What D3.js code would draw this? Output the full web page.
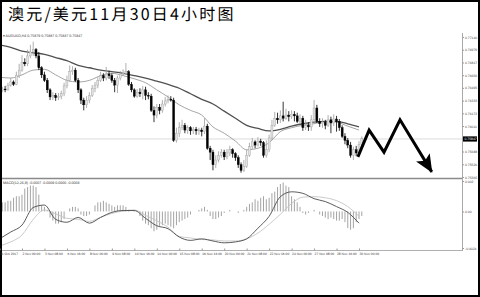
<!DOCTYPE html>
<html>
<head>
<meta charset="utf-8">
<script src="https://cdn.jsdelivr.net/npm/d3@7/dist/d3.min.js"></script>
<style>
body { margin: 0; background: #fff; }
svg { display: block; }
text { text-rendering: geometricPrecision; }
</style>
</head>
<body>
<script>
// ---- data ----
var title = "澳元/美元11月30日4小时图";
var header = "AUDUSD,H4  0.75879 0.75887 0.75837 0.75847";
var macdHeader = "MACD(12,26,9) -0.0007 -0.0009 0.0000 -0.0003";

// H4 bars: [open, high, low, close]
var bars = [
  [0.7649,0.7651,0.7643,0.7646],[0.7646,0.7651,0.7644,0.7648],[0.7648,0.7652,0.7644,0.7647],[0.7647,0.7656,0.7646,0.7653],
  [0.7653,0.7662,0.7651,0.7657],[0.7657,0.7659,0.7652,0.7654],[0.7654,0.7670,0.7653,0.7665],[0.7665,0.7680,0.7662,0.7672],
  [0.7672,0.7691,0.7670,0.7682],[0.7682,0.7687,0.7677,0.7680],[0.7680,0.7698,0.7677,0.7690],[0.7690,0.7704,0.7687,0.7695],
  [0.7695,0.7708,0.7690,0.7698],[0.7698,0.7700,0.7687,0.7690],[0.7690,0.7695,0.7672,0.7675],[0.7675,0.7677,0.7662,0.7666],
  [0.7666,0.7670,0.7657,0.7659],[0.7659,0.7662,0.7643,0.7647],[0.7647,0.7649,0.7634,0.7638],[0.7638,0.7644,0.7634,0.7640],
  [0.7640,0.7643,0.7633,0.7637],[0.7637,0.7643,0.7634,0.7639],[0.7639,0.7646,0.7635,0.7642],[0.7642,0.7656,0.7639,0.7652],
  [0.7652,0.7665,0.7649,0.7659],[0.7659,0.7678,0.7657,0.7670],[0.7670,0.7677,0.7666,0.7672],[0.7672,0.7675,0.7657,0.7659],
  [0.7659,0.7662,0.7643,0.7647],[0.7647,0.7649,0.7629,0.7634],[0.7634,0.7637,0.7621,0.7628],[0.7628,0.7639,0.7624,0.7634],
  [0.7634,0.7644,0.7630,0.7640],[0.7640,0.7653,0.7638,0.7649],[0.7649,0.7657,0.7644,0.7653],[0.7653,0.7663,0.7649,0.7659],
  [0.7659,0.7670,0.7657,0.7665],[0.7665,0.7668,0.7658,0.7662],[0.7662,0.7676,0.7659,0.7667],[0.7667,0.7671,0.7661,0.7665],
  [0.7665,0.7668,0.7656,0.7659],[0.7659,0.7662,0.7644,0.7653],[0.7653,0.7665,0.7643,0.7662],[0.7662,0.7671,0.7659,0.7667],
  [0.7667,0.7673,0.7665,0.7668],[0.7668,0.7681,0.7666,0.7670],[0.7670,0.7672,0.7652,0.7654],[0.7654,0.7657,0.7644,0.7647],
  [0.7647,0.7649,0.7637,0.7639],[0.7639,0.7648,0.7637,0.7644],[0.7644,0.7649,0.7638,0.7642],[0.7642,0.7652,0.7635,0.7647],
  [0.7647,0.7651,0.7634,0.7640],[0.7640,0.7644,0.7635,0.7639],[0.7639,0.7642,0.7619,0.7621],[0.7621,0.7626,0.7606,0.7615],
  [0.7615,0.7629,0.7611,0.7625],[0.7625,0.7629,0.7616,0.7621],[0.7621,0.7634,0.7618,0.7629],[0.7629,0.7638,0.7626,0.7633],
  [0.7633,0.7640,0.7630,0.7635],[0.7635,0.7639,0.7632,0.7634],[0.7634,0.7637,0.7581,0.7583],[0.7583,0.7599,0.7580,0.7592],
  [0.7592,0.7606,0.7587,0.7599],[0.7599,0.7609,0.7596,0.7602],[0.7602,0.7605,0.7592,0.7596],[0.7596,0.7602,0.7591,0.7599],
  [0.7599,0.7601,0.7590,0.7595],[0.7595,0.7600,0.7591,0.7597],[0.7597,0.7600,0.7590,0.7595],[0.7595,0.7599,0.7590,0.7596],
  [0.7596,0.7599,0.7588,0.7594],[0.7594,0.7611,0.7591,0.7601],[0.7601,0.7604,0.7571,0.7573],[0.7573,0.7576,0.7558,0.7568],
  [0.7568,0.7571,0.7545,0.7552],[0.7552,0.7564,0.7548,0.7558],[0.7558,0.7569,0.7555,0.7564],[0.7564,0.7572,0.7561,0.7568],
  [0.7568,0.7571,0.7558,0.7562],[0.7562,0.7572,0.7559,0.7567],[0.7567,0.7576,0.7563,0.7571],[0.7571,0.7573,0.7561,0.7566],
  [0.7566,0.7568,0.7557,0.7561],[0.7561,0.7564,0.7548,0.7552],[0.7552,0.7555,0.7542,0.7545],[0.7545,0.7558,0.7543,0.7550],
  [0.7550,0.7571,0.7548,0.7564],[0.7564,0.7580,0.7562,0.7575],[0.7575,0.7586,0.7572,0.7581],[0.7581,0.7583,0.7573,0.7577],
  [0.7577,0.7587,0.7575,0.7582],[0.7582,0.7585,0.7576,0.7580],[0.7580,0.7582,0.7561,0.7564],[0.7564,0.7583,0.7561,0.7571],
  [0.7571,0.7590,0.7568,0.7586],[0.7586,0.7609,0.7583,0.7602],[0.7602,0.7619,0.7600,0.7611],[0.7611,0.7618,0.7604,0.7609],
  [0.7609,0.7621,0.7605,0.7614],[0.7614,0.7632,0.7607,0.7611],[0.7611,0.7623,0.7609,0.7615],[0.7615,0.7620,0.7607,0.7613],
  [0.7613,0.7621,0.7610,0.7616],[0.7616,0.7620,0.7607,0.7614],[0.7614,0.7618,0.7605,0.7607],[0.7607,0.7616,0.7604,0.7611],
  [0.7611,0.7614,0.7595,0.7599],[0.7599,0.7609,0.7596,0.7602],[0.7602,0.7606,0.7595,0.7600],[0.7600,0.7615,0.7595,0.7609],
  [0.7609,0.7634,0.7604,0.7624],[0.7624,0.7628,0.7605,0.7607],[0.7607,0.7611,0.7600,0.7604],[0.7604,0.7611,0.7599,0.7606],
  [0.7606,0.7609,0.7597,0.7602],[0.7602,0.7615,0.7600,0.7609],[0.7609,0.7613,0.7592,0.7605],[0.7605,0.7616,0.7601,0.7610],
  [0.7610,0.7614,0.7594,0.7607],[0.7607,0.7610,0.7595,0.7599],[0.7599,0.7602,0.7586,0.7588],[0.7588,0.7592,0.7578,0.7583],
  [0.7583,0.7586,0.7573,0.7577],[0.7577,0.7581,0.7561,0.7564],[0.7564,0.7575,0.7558,0.7571],[0.7571,0.7576,0.7563,0.7567],
  [0.7567,0.7582,0.7564,0.7578],[0.7578,0.7588,0.7576,0.7585]
];

// moving averages, read every 4th bar
var maStep = 4;
var maSlow = [0.7704,0.7701,0.7696,0.7694,0.7692,0.7688,0.7684,0.7678,0.7675,0.7672,0.7670,0.7668,0.7665,0.7662,0.7658,0.7654,
  0.7649,0.7642,0.7635,0.7629,0.7620,0.7611,0.7602,0.7598,0.7595,0.7597,0.7601,0.7604,0.7606,0.7607,0.7607,0.7604,0.7600];
var maFast = [0.7663,0.7662,0.7666,0.7672,0.7673,0.7666,0.7659,0.7657,0.7659,0.7665,0.7668,0.7665,0.7661,0.7656,0.7647,0.7638,
  0.7628,0.7621,0.7615,0.7600,0.7592,0.7582,0.7571,0.7573,0.7580,0.7594,0.7599,0.7602,0.7604,0.7607,0.7606,0.7601,0.7596];

// MACD lines, read every 4th bar
var macdMain = [-0.0018,-0.00135,-0.0009,0.00026,0.00042,-0.00052,-0.00071,-0.00039,-0.00077,-0.00039,-0.00006,0.00006,0.00006,
  -0.00045,-0.00094,-0.00113,-0.00168,-0.0019,-0.0018,-0.00194,-0.00206,-0.002,-0.0018,-0.0011,-0.00032,0.00097,0.00129,0.00119,
  0.00084,0.00065,0.00032,-0.00006,-0.00077];
var macdSignal = [-0.00226,-0.002,-0.00155,-0.00052,0.0001,-0.00016,-0.00045,-0.00052,-0.00065,-0.00039,-0.00013,0.00003,0.0001,
  -0.00026,-0.00061,-0.00103,-0.00164,-0.00174,-0.00184,-0.00187,-0.00194,-0.00194,-0.0018,-0.00142,-0.00084,-0.00019,0.00052,
  0.00094,0.00097,0.0009,0.00071,0.00032,-0.00032];
// histogram, one per bar
var macdHist = [
  0.0005,0.0006,0.0006,0.0007,0.0007,0.0009,0.0010,0.0010,0.0011,0.0015,
  0.0016,0.0017,0.0017,0.0016,0.0011,0.0004,0.0003,0.0001,-0.0004,-0.0006,
  -0.0008,-0.0008,-0.0007,-0.0005,0.0000,0.0002,0.0003,0.0003,0.0002,-0.0002,
  -0.0003,-0.0003,-0.0002,0.0000,0.0004,0.0006,0.0006,0.0007,0.0006,0.0005,
  0.0004,0.0003,0.0004,0.0004,0.0004,0.0003,0.0001,0.0000,0.0001,0.0000,
  -0.0003,-0.0006,-0.0008,-0.0009,-0.0011,-0.0013,-0.0012,-0.0010,-0.0009,-0.0008,
  -0.0009,-0.0010,-0.0011,-0.0009,-0.0007,-0.0006,-0.0005,-0.0004,-0.0002,0.0000,
  0.0000,0.0001,0.0002,0.0003,0.0001,-0.0003,-0.0005,-0.0005,-0.0004,-0.0003,
  -0.0001,0.0000,0.0001,0.0000,0.0000,-0.0001,0.0000,0.0001,0.0003,0.0005,
  0.0006,0.0008,0.0007,0.0009,0.0010,0.0008,0.0009,0.0012,0.0013,0.0016,
  0.0018,0.0019,0.0017,0.0016,0.0010,0.0008,0.0006,0.0003,-0.0001,-0.0002,
  -0.0001,0.0000,0.0001,0.0000,-0.0002,-0.0003,-0.0004,-0.0005,-0.0004,-0.0005,
  -0.0006,-0.0006,-0.0005,-0.0007,-0.0011,-0.0012,-0.0011,-0.0007,-0.0005,-0.0003
];

var lastPrice = 0.75847;
var priceTicks = [0.77140,0.76979,0.76817,0.76656,0.76495,0.76333,0.76172,0.76011,0.75688,0.75526,0.75365];
var macdTicks = [0.002, 0, -0.0024];
var macdTickText = ["0.002", "0.00", "-0.0024"];
var timeTicks = [0,8,16,24,32,40,48,56,64,72,80,88,96,104,112,120,128];
var timeLabels = ["31 Oct 2017","2 Nov 00:00","3 Nov 08:00","6 Nov 16:00","8 Nov 00:00","9 Nov 08:00","10 Nov 16:00",
  "14 Nov 00:00","15 Nov 08:00","16 Nov 16:00","20 Nov 00:00","21 Nov 08:00","22 Nov 16:00","24 Nov 00:00",
  "27 Nov 08:00","28 Nov 16:00","30 Nov 00:00"];

// hand drawn forecast zigzag: [bar index, price]
var arrowPts = [[127.6,0.7562],[131.6,0.7596],[136.9,0.7568],[142.6,0.7609],[153.9,0.7543]];

// ---- layout ----
var w = 480, h = 297;
var left = 2, right = 462;
var mainTop = 33, mainBottom = 178;
var macdTop = 180, macdBottom = 250;

var svg = d3.select("body").append("svg")
  .attr("width", w)
  .attr("height", h);

svg.append("rect")
  .attr("x", 1).attr("y", 1)
  .attr("width", w - 2).attr("height", h - 2)
  .attr("fill", "#fff")
  .attr("stroke", "#000")
  .attr("stroke-width", 2);

svg.append("text")
  .attr("x", 8).attr("y", 20)
  .style("font", "16px 'Noto Sans CJK SC'")
  .style("letter-spacing", "2.2px")
  .attr("fill", "#000")
  .text(title);

// scales
var x = d3.scaleLinear().domain([0, 128]).range([-0.5, 359]);
var y = d3.scaleLinear().domain([0.75365, 0.77140]).range([177, 37]);
var ym = d3.scaleLinear().domain([-0.0024, 0.002]).range([248, 181]);

var defs = svg.append("defs");
defs.append("clipPath").attr("id", "clipMain")
  .append("rect").attr("x", left).attr("y", mainTop - 3).attr("width", right - left).attr("height", mainBottom - mainTop + 3);
defs.append("clipPath").attr("id", "clipMacd")
  .append("rect").attr("x", left).attr("y", macdTop).attr("width", right - left).attr("height", macdBottom - macdTop);

// current price line
svg.append("line")
  .attr("x1", left).attr("x2", right)
  .attr("y1", y(lastPrice)).attr("y2", y(lastPrice))
  .attr("stroke", "#dcdcdc").attr("stroke-width", 1);

var main = svg.append("g").attr("clip-path", "url(#clipMain)");

// moving averages
var maLine = d3.line()
  .x(function(d, i) { return x(i * maStep); })
  .y(function(d) { return y(d); })
  .curve(d3.curveMonotoneX);

main.append("path").attr("d", maLine(maFast))
  .attr("fill", "none").attr("stroke", "#9a9a9a").attr("stroke-width", 0.9);
main.append("path").attr("d", maLine(maSlow))
  .attr("fill", "none").attr("stroke", "#505050").attr("stroke-width", 1.3);

// candles
var candle = main.selectAll(".candle")
  .data(bars)
  .enter().append("g")
  .attr("class", "candle");

candle.append("line")
  .attr("x1", function(d, i) { return x(i); })
  .attr("x2", function(d, i) { return x(i); })
  .attr("y1", function(d) { return y(d[1]); })
  .attr("y2", function(d) { return y(d[2]); })
  .attr("stroke", function(d) { return d[3] >= d[0] ? "#9c9c9c" : "#000"; })
  .attr("stroke-width", 0.8);

candle.append("rect")
  .attr("x", function(d, i) { return x(i) - 1; })
  .attr("width", 2)
  .attr("y", function(d) { return y(Math.max(d[0], d[3])); })
  .attr("height", function(d) { return Math.max(0.6, Math.abs(y(d[0]) - y(d[3]))); })
  .attr("fill", function(d) { return d[3] >= d[0] ? "#e2e2e2" : "#000"; })
  .attr("stroke", function(d) { return d[3] >= d[0] ? "#a0a0a0" : "#000"; })
  .attr("stroke-width", 0.4);

// panel borders
svg.append("line")
  .attr("x1", left).attr("x2", right).attr("y1", 178.5).attr("y2", 178.5)
  .attr("stroke", "#8a8a8a").attr("stroke-width", 1.6);
svg.append("line")
  .attr("x1", left).attr("x2", right).attr("y1", macdBottom + 0.5).attr("y2", macdBottom + 0.5)
  .attr("stroke", "#b0b0b0").attr("stroke-width", 1);
svg.append("line")
  .attr("x1", right + 0.5).attr("x2", right + 0.5).attr("y1", mainTop).attr("y2", macdBottom + 1)
  .attr("stroke", "#a8a8a8").attr("stroke-width", 1);

// header labels
svg.append("text")
  .attr("x", 3).attr("y", 37)
  .style("font", "3.6px 'Liberation Sans'")
  .attr("fill", "#333")
  .text("\u25BE " + header);
svg.append("text")
  .attr("x", 3).attr("y", 183.5)
  .style("font", "3.6px 'Liberation Sans'")
  .attr("fill", "#333")
  .text(macdHeader);

// price axis
var yAxis = d3.axisRight(y)
  .tickValues(priceTicks)
  .tickSize(1.5)
  .tickFormat(d3.format(".5f"));
var gy = svg.append("g")
  .attr("transform", "translate(" + (right + 0.5) + ",0)")
  .call(yAxis);
gy.select(".domain").remove();
gy.selectAll("line").attr("stroke", "#999");
gy.selectAll("text").attr("x", 2.5).style("font", "3.4px 'Liberation Sans'").attr("fill", "#444");

// last price tag
svg.append("rect")
  .attr("x", right + 1).attr("y", y(lastPrice) - 2.6)
  .attr("width", 14).attr("height", 5.2)
  .attr("fill", "#000");
svg.append("text")
  .attr("x", right + 2.5).attr("y", y(lastPrice) + 1.2)
  .style("font", "3.4px 'Liberation Sans'")
  .attr("fill", "#fff")
  .text(d3.format(".5f")(lastPrice));

// macd axis
var mAxis = d3.axisRight(ym)
  .tickValues(macdTicks)
  .tickSize(1.5)
  .tickFormat(function(d, i) { return macdTickText[i]; });
var gm = svg.append("g")
  .attr("transform", "translate(" + (right + 0.5) + ",0)")
  .call(mAxis);
gm.select(".domain").remove();
gm.selectAll("line").attr("stroke", "#999");
gm.selectAll("text").attr("x", 2.5).style("font", "3.4px 'Liberation Sans'").attr("fill", "#444");

// macd panel
var macdG = svg.append("g").attr("clip-path", "url(#clipMacd)");

macdG.selectAll(".hist")
  .data(macdHist)
  .enter().append("line")
  .attr("class", "hist")
  .attr("x1", function(d, i) { return x(i); })
  .attr("x2", function(d, i) { return x(i); })
  .attr("y1", ym(0))
  .attr("y2", function(d) { return ym(d); })
  .attr("stroke", "#9a9a9a")
  .attr("stroke-width", 0.9);

var mLine = d3.line()
  .x(function(d, i) { return x(i * maStep); })
  .y(function(d) { return ym(d); })
  .curve(d3.curveMonotoneX);

macdG.append("path").attr("d", mLine(macdSignal))
  .attr("fill", "none").attr("stroke", "#c4c4c4").attr("stroke-width", 0.9);
macdG.append("path").attr("d", mLine(macdMain))
  .attr("fill", "none").attr("stroke", "#4a4a4a").attr("stroke-width", 0.9);

// time axis
var xAxis = d3.axisBottom(x)
  .tickValues(timeTicks)
  .tickSize(2)
  .tickFormat(function(d, i) { return timeLabels[i]; });
var gx = svg.append("g")
  .attr("transform", "translate(0," + (macdBottom + 0.5) + ")")
  .call(xAxis);
gx.select(".domain").remove();
gx.selectAll("line").attr("stroke", "#999").attr("transform", "translate(0,-2)");
gx.selectAll("text")
  .attr("y", 4.2).attr("dy", 0)
  .style("text-anchor", "start")
  .style("font", "3.3px 'Liberation Sans'")
  .attr("fill", "#444");

// forecast arrow
defs.append("marker")
  .attr("id", "head")
  .attr("markerUnits", "userSpaceOnUse")
  .attr("viewBox", "0 -8 18 16")
  .attr("refX", 17).attr("refY", 0)
  .attr("markerWidth", 18).attr("markerHeight", 16)
  .attr("orient", "auto")
  .append("path")
  .attr("d", "M0,-8L18,0L0,8L4,0Z")
  .attr("fill", "#000");

var arrowLine = d3.line()
  .x(function(d) { return x(d[0]); })
  .y(function(d) { return y(d[1]); });

svg.append("path")
  .attr("d", arrowLine(arrowPts))
  .attr("fill", "none")
  .attr("stroke", "#000")
  .attr("stroke-width", 3)
  .attr("stroke-linejoin", "miter")
  .attr("marker-end", "url(#head)");
</script>
</body>
</html>
